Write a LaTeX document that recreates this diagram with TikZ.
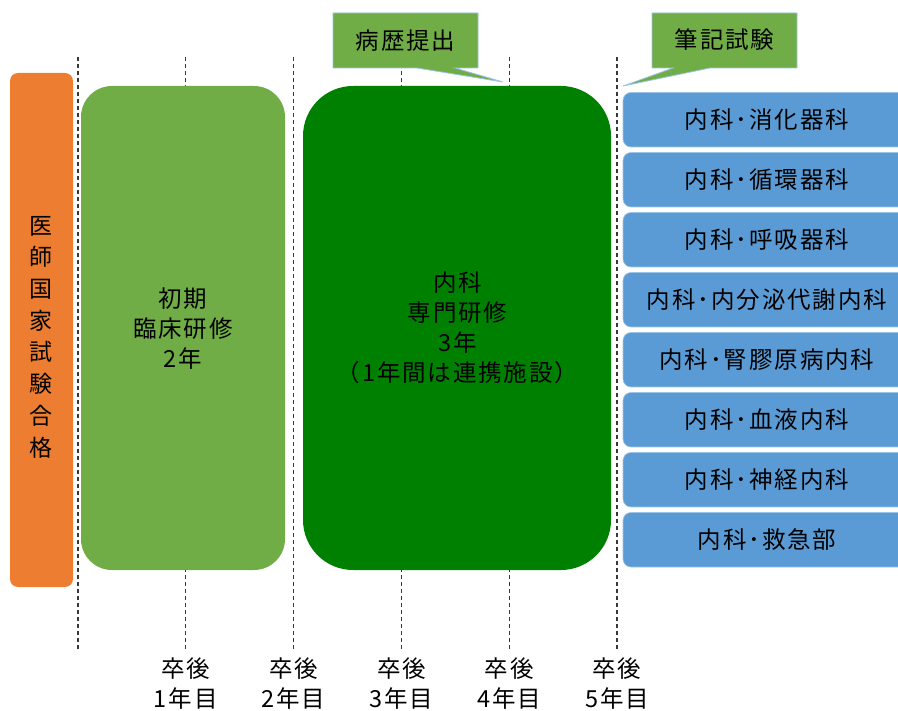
\documentclass[tikz,border=0pt]{standalone}
\usepackage{fontspec}
\setmainfont{Noto Sans CJK JP}
\newfontfamily\spacedjp[LetterSpace=8]{Noto Sans CJK JP}
\definecolor{cOrange}{HTML}{ED7D31}
\definecolor{cLight}{HTML}{70AD47}
\definecolor{cDark}{HTML}{008000}
\definecolor{cBlue}{HTML}{5B9BD5}
\definecolor{cEdge}{HTML}{9DC3E6}
\definecolor{cGuide}{HTML}{383838}
\begin{document}
\begin{tikzpicture}[x=1pt,y=-1pt,
  every node/.style={font=\spacedjp\fontsize{23.5}{30}\selectfont, text=black, inner sep=0pt},
  guide/.style={draw=cGuide, line width=1.2pt, dash pattern=on 4pt off 3pt},
  bluebox/.style={fill=cBlue, draw=cEdge, line width=0.6pt, rounded corners=8pt,
    minimum width=288pt, minimum height=54.5pt},
  callout/.style={fill=cLight, draw=cEdge, line width=0.8pt},
  yearlbl/.style={align=center}
]
\useasboundingbox (0,0) rectangle (898,711);
\clip (0,0) rectangle (898,711);

% guide lines
\foreach \gx [count=\k] in {78,185.8,293.6,401.5,509.3,617}{
  \coordinate (gt\k) at (\gx,57);
  \coordinate (gb\k) at (\gx,650);
  \draw[guide] (gt\k) -- (gb\k);
}

% orange
\node[fill=cOrange, rounded corners=8pt, minimum width=63pt, minimum height=514pt] (exam) at (41.5,330) {};
\node[align=center, font=\fontsize{23}{31.7}\selectfont] (examtxt) at (41.5,337) {医\\師\\国\\家\\試\\験\\合\\格};

% light green
\node[fill=cLight, rounded corners=31pt, minimum width=204pt, minimum height=484pt] (init) at (183,328) {};
\node[align=center] (inittxt) at (183,328.5) {初期\\臨床研修\\2年};

% dark green
\node[fill=cDark, rounded corners=50pt, minimum width=308pt, minimum height=484pt] (spec) at (457,328) {};
\node[align=center] (spectxt) at (457.5,328) {内科\\専門研修\\3年\\（1年間は連携施設）};

% blue boxes
\foreach \t [count=\i] in {内科･消化器科,内科･循環器科,内科･呼吸器科,内科･内分泌代謝内科,内科･腎膠原病内科,内科･血液内科,内科･神経内科,内科･救急部}{
  \node[bluebox] (sub\i) at (767,{119.75+60*(\i-1)}) {};
  \node (subt\i) at (767,{119.75+60*(\i-1)}) {\t};
}

% callouts
\draw[callout] (333,13) -- (478,13) -- (478,68) -- (455,68) -- (503,82) -- (417,68) -- (333,68) -- cycle;
\node (c1) at (405.5,41) {病歴提出};
\draw[callout] (652,13) -- (797,13) -- (797,68) -- (710,68) -- (623,86) -- (673,68) -- (652,68) -- cycle;
\node (c2) at (724.5,40) {筆記試験};

% year labels
\node[yearlbl] (y1) at (185.8,684) {卒後\\1年目};
\node[yearlbl] (y2) at (293.6,684) {卒後\\2年目};
\node[yearlbl] (y3) at (401.5,684) {卒後\\3年目};
\node[yearlbl] (y4) at (509.3,684) {卒後\\4年目};
\node[yearlbl] (y5) at (617,684) {卒後\\5年目};
\end{tikzpicture}
\end{document}
